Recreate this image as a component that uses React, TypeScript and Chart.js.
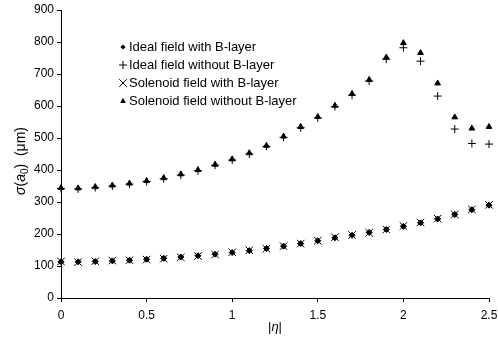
import React, { useEffect, useRef } from "react";
import { Chart, registerables } from "chart.js";

Chart.register(...registerables);

const eta = [0, 0.1, 0.2, 0.3, 0.4, 0.5, 0.6, 0.7, 0.8, 0.9, 1.0, 1.1, 1.2, 1.3, 1.4, 1.5, 1.6, 1.7, 1.8, 1.9, 2.0, 2.1, 2.2, 2.3, 2.4, 2.5];

const idealWithB = [113, 113, 114, 116, 118, 121, 124, 128, 132, 137, 142, 148, 155, 162, 170, 179, 188, 196, 205, 214, 224, 235, 247, 261, 276, 290];
const idealWithoutB = [342, 341, 345, 350, 356, 364, 373, 384, 398, 415, 431, 450, 474, 502, 532, 563, 598, 634, 678, 746, 782, 740, 631, 528, 483, 481];
const solenoidWithB = [114, 112, 115, 117, 118, 120, 123, 127, 131, 136, 143, 149, 154, 162, 170, 179, 190, 197, 204, 214, 225, 236, 248, 261, 277, 291];
const solenoidWithoutB = [344, 343, 347, 352, 358, 366, 375, 387, 400, 417, 434, 453, 476, 505, 535, 566, 601, 638, 682, 752, 797, 766, 671, 565, 530, 535];

const seriesNames = ["Ideal field with B-layer", "Ideal field without B-layer", "Solenoid field with B-layer", "Solenoid field without B-layer"];

const xTickLabels = ["0", "0.5", "1", "1.5", "2", "2.5"];

const FONT = "'Liberation Sans', Arial, sans-serif";

function drawMarker(ctx: CanvasRenderingContext2D, style: string, x: number, y: number, r: number) {
  ctx.save();
  ctx.strokeStyle = "#000";
  ctx.fillStyle = "#000";
  ctx.lineWidth = 1;
  ctx.beginPath();
  if (style === "rectRot") {
    ctx.moveTo(x, y - r);
    ctx.lineTo(x + r, y);
    ctx.lineTo(x, y + r);
    ctx.lineTo(x - r, y);
    ctx.closePath();
    ctx.fill();
  } else if (style === "cross") {
    ctx.moveTo(x - r, y);
    ctx.lineTo(x + r, y);
    ctx.moveTo(x, y - r);
    ctx.lineTo(x, y + r);
    ctx.stroke();
  } else if (style === "crossRot") {
    ctx.moveTo(x - r, y - r);
    ctx.lineTo(x + r, y + r);
    ctx.moveTo(x + r, y - r);
    ctx.lineTo(x - r, y + r);
    ctx.stroke();
  } else if (style === "triangle") {
    ctx.moveTo(x, y - r);
    ctx.lineTo(x + r * 0.9, y + r * 0.6);
    ctx.lineTo(x - r * 0.9, y + r * 0.6);
    ctx.closePath();
    ctx.fill();
  }
  ctx.restore();
}

type Seg = { t: string; italic?: boolean; sub?: boolean };

function drawSegs(ctx: CanvasRenderingContext2D, segs: Seg[], size: number) {
  const fontFor = (s: Seg) => `${s.italic ? "italic " : ""}${s.sub ? Math.round(size * 0.7) : size}px ${FONT}`;
  let total = 0;
  for (const s of segs) {
    ctx.font = fontFor(s);
    total += ctx.measureText(s.t).width;
  }
  let x = -total / 2;
  ctx.textBaseline = "middle";
  ctx.textAlign = "left";
  for (const s of segs) {
    ctx.font = fontFor(s);
    ctx.fillText(s.t, x, s.sub ? size * 0.3 : 0);
    x += ctx.measureText(s.t).width;
  }
}

const overlayPlugin = {
  id: "overlay",
  afterDraw(chart: any) {
    const ctx: CanvasRenderingContext2D = chart.ctx;
    const area = chart.chartArea;
    ctx.save();
    ctx.fillStyle = "#000";
    // y title
    ctx.save();
    ctx.translate(21, 161);
    ctx.rotate(-Math.PI / 2);
    drawSegs(ctx, [
      { t: "σ", italic: true },
      { t: "(" },
      { t: "a", italic: true },
      { t: "0", sub: true },
      { t: ")  (μm)" },
    ], 14);
    ctx.restore();
    // x title
    ctx.save();
    ctx.translate((area.left + area.right) / 2, 327);
    drawSegs(ctx, [{ t: "|" }, { t: "η", italic: true }, { t: "|" }], 13);
    ctx.restore();
    // legend
    const styles = ["rectRot", "cross", "crossRot", "triangle"];
    const sizes = [2.6, 4, 3.8, 3.2];
    const rows = [47, 65, 83, 101];
    ctx.font = `13px ${FONT}`;
    ctx.textBaseline = "middle";
    ctx.textAlign = "left";
    for (let i = 0; i < 4; i++) {
      drawMarker(ctx, styles[i], 123, rows[i], sizes[i]);
      ctx.fillStyle = "#000";
      ctx.fillText(seriesNames[i], 129, rows[i]);
    }
    ctx.restore();
  },
};

export default function App() {
  const ref = useRef<HTMLCanvasElement | null>(null);
  useEffect(() => {
    if (!ref.current) return;
    const mk = (vals: number[]) => eta.map((x, i) => ({ x, y: vals[i] }));
    const common = { showLine: false, borderColor: "#000", backgroundColor: "#000", borderWidth: 1, pointBorderWidth: 1, clip: false as any };
    const chart = new Chart(ref.current, {
      type: "scatter",
      data: {
        datasets: [
          { ...common, label: seriesNames[0], data: mk(idealWithB), pointStyle: "rectRot", pointRadius: 3 },
          { ...common, label: seriesNames[1], data: mk(idealWithoutB), pointStyle: "cross", pointRadius: 4 },
          { ...common, label: seriesNames[2], data: mk(solenoidWithB), pointStyle: "crossRot", pointRadius: 5.3 },
          { ...common, label: seriesNames[3], data: mk(solenoidWithoutB), pointStyle: "triangle", pointRadius: 3.3 },
        ],
      },
      options: {
        animation: false,
        responsive: false,
        devicePixelRatio: 1,
        layout: { autoPadding: false, padding: { left: 0, right: 9, top: 10, bottom: 0 } },
        plugins: { legend: { display: false }, tooltip: { enabled: false } },
        scales: {
          x: {
            type: "linear",
            min: 0,
            max: 2.5,
            afterFit: (s: any) => { s.height = 51; s.paddingLeft = 0; s.paddingRight = 0; },
            border: { display: true, color: "#000", width: 1 },
            grid: { display: true, drawOnChartArea: false, drawTicks: true, tickLength: 4, color: "#000" },
            ticks: {
              stepSize: 0.5,
              color: "#000",
              padding: 6,
              maxRotation: 0,
              font: { family: FONT, size: 12 },
              callback: (v: any) => {
                const idx = Math.round(Number(v) / 0.5);
                return xTickLabels[idx] ?? "";
              },
            },
          },
          y: {
            min: 0,
            max: 900,
            afterFit: (s: any) => { s.width = 61; s.paddingTop = 0; s.paddingBottom = 0; },
            border: { display: true, color: "#000", width: 1 },
            grid: { display: true, drawOnChartArea: false, drawTicks: true, tickLength: 4, color: "#000" },
            ticks: { stepSize: 100, color: "#000", padding: 3, font: { family: FONT, size: 12 } },
          },
        },
      },
      plugins: [overlayPlugin],
    });
    return () => chart.destroy();
  }, []);
  return (
    <div style={{ position: "fixed", left: 0, top: 0, width: 498, height: 349, background: "#fff" }}>
      <canvas ref={ref} width={498} height={349} style={{ width: 498, height: 349, display: "block" }} />
    </div>
  );
}
